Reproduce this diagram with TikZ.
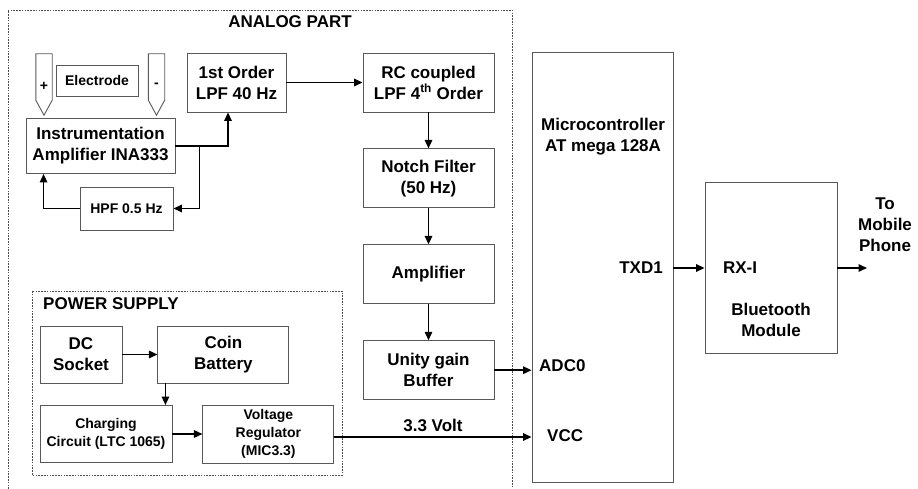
\documentclass[tikz,border=0pt]{standalone}
\usepackage{fontspec}
\setmainfont{Liberation Sans}
\usetikzlibrary{arrows.meta,positioning,calc}

\begin{document}
\begin{tikzpicture}[
      x=1pt, y=-1pt, node distance=36pt,
      blk/.style={draw=black!65, line width=0.9pt, inner sep=0pt, align=center, font=\bfseries\fontsize{17}{21}\selectfont},
      sblk/.style={blk, font=\bfseries\fontsize{14}{18}\selectfont},
      txt/.style={inner sep=0pt, align=center, font=\bfseries\fontsize{17}{21}\selectfont},
      probe/.style={inner sep=0pt, minimum width=16pt, minimum height=46pt},
      grp/.style={draw=black!70, line width=0.9pt, dash pattern=on 1.6pt off 1.2pt},
      arr/.style={-{Triangle[length=8.5pt, width=7.5pt]}, line width=1.5pt}]
    \useasboundingbox (0,0) rectangle (918,489);
    % analog part
    \draw[grp] (8,489) -- (8,10) -- (512,10) -- (512,489);
    \node[txt] (analog) at (290,22) {ANALOG PART};
    \node[probe] (pplus) at (44,77) {};
    \node[probe] (pminus) at (156.5,77) {};
    \draw[draw=black!65, line width=0.9pt] (pplus.north west) -- (pplus.north east) -- (pplus.south east) -- ($(pplus.south)+(0,15)$) -- (pplus.south west) -- cycle;
    \draw[draw=black!65, line width=0.9pt] (pminus.north west) -- (pminus.north east) -- (pminus.south east) -- ($(pminus.south)+(0,15)$) -- (pminus.south west) -- cycle;
    \node[txt, font=\bfseries\fontsize{14}{17}\selectfont] (plus) at (44,86) {+};
    \node[txt, font=\bfseries\fontsize{14}{17}\selectfont] (minus) at (156.5,85) {-};
    \node[sblk, minimum width=82pt, minimum height=31pt] (elec) at (97,80.5) {Electrode};
    \node[blk, minimum width=149pt, minimum height=55pt] (amp) at (100.5,146) {Instrumentation\\Amplifier INA333};
    \node[blk, minimum width=99pt, minimum height=59pt] (lpf1) at (236.5,82.5) {1st Order\\LPF 40 Hz};
    \node[sblk, minimum width=93pt, minimum height=43pt] (hpf) at (126.5,208.5) {HPF 0.5 Hz};
    \node[blk, minimum width=131pt, minimum height=59pt] (rc) at (428.5,82.5) {RC coupled\\LPF 4\textsuperscript{th} Order};
    \node[blk, minimum width=131pt, minimum height=59pt, below=of rc] (notch) {Notch Filter\\(50 Hz)};
    \node[blk, minimum width=131pt, minimum height=59pt, below=of notch] (ampl) {Amplifier};
    \node[blk, minimum width=131pt, minimum height=59pt, below=of ampl] (buf) {Unity gain\\Buffer};
    % power supply
    \draw[grp] (32,291) rectangle (342,475);
    \node[txt, anchor=west] (power) at (43,304) {POWER SUPPLY};
    \node[blk, minimum width=82pt, minimum height=57pt] (dc) at (81,354.5) {DC\\Socket};
    \node[blk, minimum width=131pt, minimum height=57pt, right=35pt of dc] (coin) {Coin\\Battery};
    \node[sblk, minimum width=132pt, minimum height=57pt] (chg) at (106,434) {Charging\\Circuit (LTC 1065)};
    \node[sblk, minimum width=131pt, minimum height=58pt, right=30pt of chg] (vreg) {Voltage\\Regulator\\(MIC3.3)};
    % microcontroller and bluetooth
    \node[blk, minimum width=141pt, minimum height=430pt] (mcu) at (602.5,267) {};
    \node[txt] (mcutxt) at (603,137) {Microcontroller\\AT mega 128A};
    \node[txt, anchor=east] (txd) at (663,268) {TXD1};
    \node[txt, anchor=west] (adc) at (539,366) {ADC0};
    \node[txt, anchor=west] (vcc) at (547,436) {VCC};
    \node[blk, minimum width=132pt, minimum height=171pt] (bt) at (771,267.5) {};
    \node[txt] (rx) at (740,268) {RX-I};
    \node[txt] (btm) at (771,320) {Bluetooth\\Module};
    \node[txt] (phone) at (885,225) {To\\Mobile\\Phone};
    \coordinate (jn) at ($(amp.east)+(24,0)$);
    \coordinate (out) at (867,268);
    % connectors
    \draw[arr] (amp.east) -| ($(lpf1.south)+(-8.5,0)$);
    \draw[arr] (jn) |- (hpf.east);
    \draw[arr] (hpf.west) -| ($(amp.south west)+(18,0)$);
    \draw[arr] (lpf1.east) -- (rc.west);
    \draw[arr] (rc) -- (notch);
    \draw[arr] (notch) -- (ampl);
    \draw[arr] (ampl) -- (buf);
    \draw[arr] (buf.east) -- (buf.east -| mcu.west);
    \draw[arr] (dc) -- (coin);
    \draw[arr] ($(coin.south west)+(8,0)$) coordinate (cb) -- (cb |- chg.north);
    \draw[arr] (chg) -- (vreg);
    \draw[arr] ($(vreg.east)+(0,3)$) coordinate (vr) -- node[txt, above=5pt]{3.3 Volt} (vr -| mcu.west);
    \draw[arr] (mcu.east |- txd) -- (bt.west |- txd);
    \draw[arr] (bt.east |- txd) -- (out);
  \end{tikzpicture}
\end{document}
